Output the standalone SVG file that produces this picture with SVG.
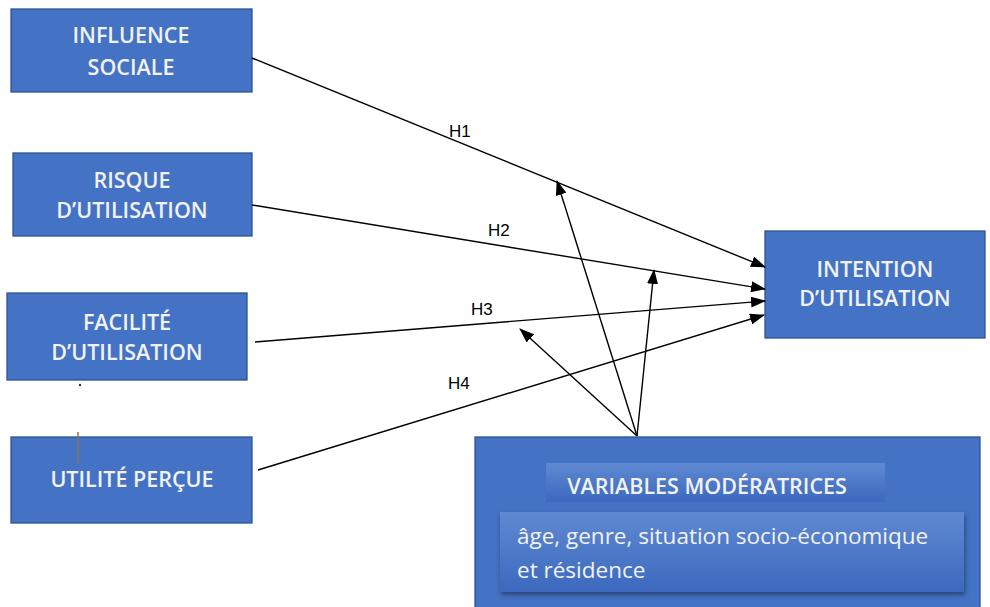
<svg xmlns="http://www.w3.org/2000/svg" width="990" height="607" viewBox="0 0 990 607">
<style>
.box{fill:#4472C4;stroke:#2F528F;stroke-width:1.3}
.t{font-family:"Open Sans","Liberation Sans",sans-serif;font-size:21.5px;fill:#F2F2F2;text-anchor:middle;font-weight:600}
.lab{font-family:"Liberation Sans",Arial,sans-serif;font-size:17px;fill:#000}
.c line{stroke:#000;stroke-width:1.4;marker-end:url(#ah)}
.mt{font-family:"Open Sans","Liberation Sans",sans-serif;fill:#F2F2F2}
</style>
<defs>
<marker id="ah" markerWidth="15" markerHeight="11" refX="14" refY="5.5" orient="auto" markerUnits="userSpaceOnUse" viewBox="0 0 15 11">
<path d="M0,0 L15,5.5 L0,11 Z" fill="#000"/>
</marker>
<linearGradient id="g1" x1="0" y1="0" x2="0" y2="1">
<stop offset="0" stop-color="#5F89D2"/>
<stop offset="1" stop-color="#3C69BE"/>
</linearGradient>
<filter id="sh" x="-5%" y="-10%" width="110%" height="130%">
<feDropShadow dx="1" dy="3" stdDeviation="2.5" flood-color="#000" flood-opacity="0.4"/>
</filter>
</defs>
<rect width="990" height="607" fill="#fff"/>
<g id="n-influence"><rect class="box" x="11" y="9" width="241" height="83"/><text class="t" x="131" y="43">INFLUENCE</text><text class="t" x="131" y="75">SOCIALE</text></g>
<g id="n-risque"><rect class="box" x="13" y="153" width="239" height="83"/><text class="t" x="132" y="188">RISQUE</text><text class="t" x="132" y="218">D’UTILISATION</text></g>
<g id="n-facilite"><rect class="box" x="7" y="293" width="240" height="87"/><text class="t" x="127" y="330">FACILITÉ</text><text class="t" x="127" y="360">D’UTILISATION</text></g>
<g id="n-utilite"><rect class="box" x="11" y="437" width="241" height="86"/><text class="t" x="132" y="487">UTILITÉ PERÇUE</text></g>
<g id="n-intention"><rect class="box" x="765" y="231" width="220" height="107"/><text class="t" x="875" y="277">INTENTION</text><text class="t" x="875" y="306">D’UTILISATION</text></g>
<g id="n-moderatrices">
<rect class="box" x="475" y="437" width="505" height="175"/>
<rect x="546" y="463" width="339" height="39" fill="url(#g1)"/>
<text class="mt" x="707" y="494" font-size="21.5" text-anchor="middle" font-weight="600">VARIABLES MODÉRATRICES</text>
<rect x="500" y="512" width="464" height="80" fill="url(#g1)" filter="url(#sh)"/>
<text class="mt" x="517" y="544" font-size="22.5">âge, genre, situation socio-économique</text>
<text class="mt" x="517" y="578" font-size="22.5">et résidence</text>
</g>
<g id="marks">
<circle cx="80" cy="385" r="1.2" fill="#333"/>
<line x1="78" y1="432" x2="78" y2="463" stroke="#8B7355" stroke-width="1.5"/>
</g>
<g id="connectors" class="c">
<line x1="252" y1="58" x2="765" y2="267"/>
<line x1="252" y1="205" x2="765" y2="289"/>
<line x1="255" y1="342" x2="765" y2="301"/>
<line x1="258" y1="470" x2="764" y2="315"/>
<line x1="637" y1="436" x2="557" y2="181"/>
<line x1="637" y1="436" x2="654" y2="270"/>
<line x1="637" y1="436" x2="520" y2="329"/>
</g>
<g id="labels">
<text class="lab" x="449" y="137">H1</text>
<text class="lab" x="488" y="236">H2</text>
<text class="lab" x="471" y="315">H3</text>
<text class="lab" x="448" y="389">H4</text>
</g>
</svg>
